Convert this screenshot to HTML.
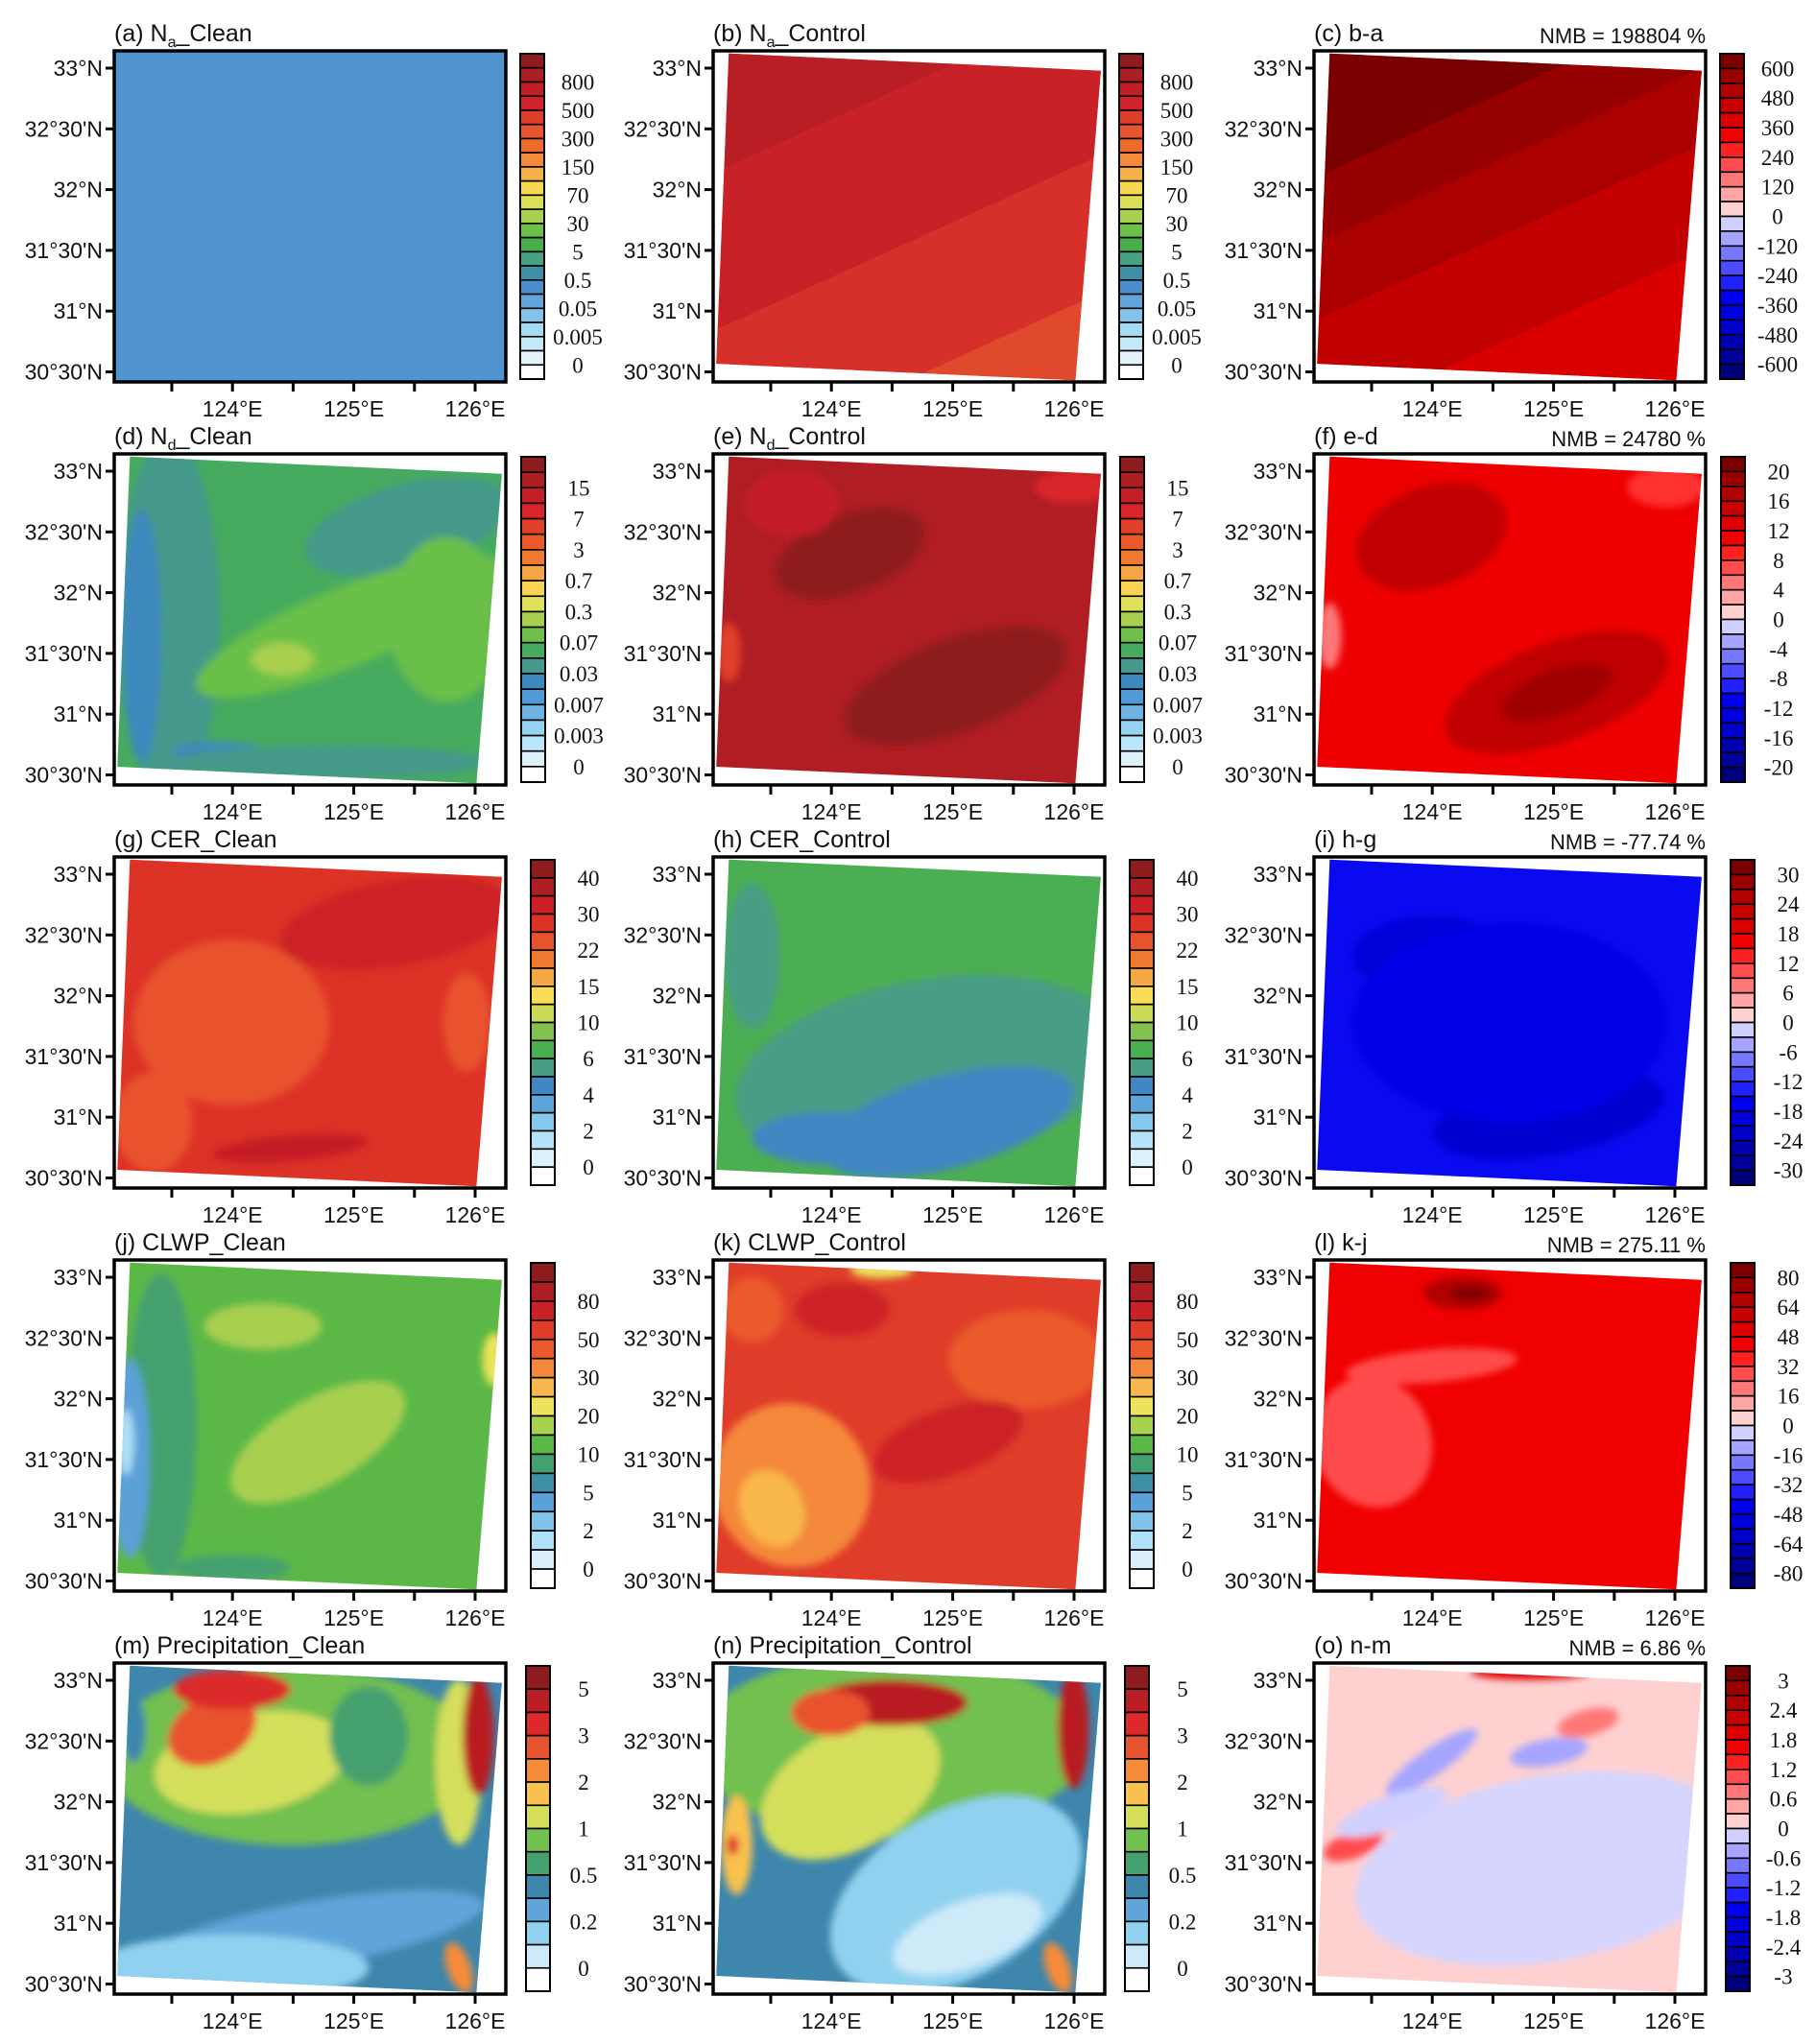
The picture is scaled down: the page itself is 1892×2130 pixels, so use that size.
<!DOCTYPE html>
<html><head><meta charset="utf-8">
<style>
html,body{margin:0;padding:0;background:#fff;}
svg{display:block;}
text{font-family:"Liberation Sans",sans-serif;}
.cb{font-family:"Liberation Serif",serif;}
</style></head>
<body>
<svg id="fig" width="1892" height="2130" viewBox="0 0 1892 2130" xmlns="http://www.w3.org/2000/svg">
<defs>
<filter id="blur" x="-20%" y="-20%" width="140%" height="140%"><feGaussianBlur stdDeviation="4"/></filter>
</defs>
</svg>
<script>
// ---- data arrays ----
const latTicks = ["33°N","32°30'N","32°N","31°30'N","31°N","30°30'N"];
const lonTicks = ["124°E","125°E","126°E"];
const palNa = ["#8e1b1d","#ad1e22","#bf1f25","#d2222a","#e03c2a","#e85530","#f06a2b","#f58b3a","#f8b149","#f9d64f","#dadf55","#a9d04f","#6bbf4a","#4bad50","#47a183","#3e8ea6","#4a8ed0","#63a6d9","#83c2e9","#a4dcf5","#c4e8f7","#e2f3fb","#ffffff"];
const labNa = ["800","500","300","150","70","30","5","0.5","0.05","0.005","0"];
const palNd = ["#8e1b1d","#ad1e22","#c41e27","#d9252a","#e0402a","#ea5a2b","#f07a30","#f6a745","#f8d355","#dfe15a","#a9cf4f","#6bbf4a","#47ab5f","#45998a","#3d88bd","#4f9ad6","#6eb3e4","#95d3f3","#bbe5f8","#ddf1fb","#ffffff"];
const labNd = ["15","7","3","0.7","0.3","0.07","0.03","0.007","0.003","0"];
const palCer = ["#8e1b1d","#ad1e22","#cc2027","#dd3327","#e8532f","#f07a30","#f6a745","#f8dc55","#c9da57","#85c04e","#4cae52","#479e85","#3f86c2","#5ea5d9","#87c8ec","#b4e2f7","#dcf1fb","#ffffff"];
const labCer = ["40","30","22","15","10","6","4","2","0"];
const palLwp = ["#8e1b1d","#ad1e22","#cc2027","#e03c2a","#ea5a2b","#f4883a","#f8b74c","#ece35a","#a9cf4f","#5bb847","#45a070","#3e8ea6","#5ba0d8","#83c2e9","#b0e0f7","#d9f0fb","#ffffff"];
const labLwp = ["80","50","30","20","10","5","2","0"];
const palPr = ["#8e1b1d","#b81e23","#dc2a2c","#e8532f","#f58b3a","#f9c14e","#d4df5c","#72c04f","#45a070","#3e86ac","#5ea5d9","#91d1f0","#cdeaf9","#ffffff"];
const labPr = ["5","3","2","1","0.5","0.2","0"];
const palDiff = ["#7a0000","#9a0000","#b00000","#c80000","#dd0000","#f00000","#ff2020","#ff4c4c","#ff7878","#ffa5a5","#ffd0d0","#d0d0ff","#a5a5ff","#7878ff","#4c4cff","#2020ff","#0000f0","#0000dd","#0000c8","#0000b0","#00009a","#00007a"];
const labBA = ["600","480","360","240","120","0","-120","-240","-360","-480","-600"];
const labED = ["20","16","12","8","4","0","-4","-8","-12","-16","-20"];
const labHG = ["30","24","18","12","6","0","-6","-12","-18","-24","-30"];
const labKJ = ["80","64","48","32","16","0","-16","-32","-48","-64","-80"];
const labNM = ["3","2.4","1.8","1.2","0.6","0","-0.6","-1.2","-1.8","-2.4","-3"];
const nmbValues = ["198804","24780","-77.74","275.11","6.86"];

// ---- layout ----
const colX=[119,743,1369], rowY=[53,473,893,1313,1733], FW=408, FH=345;
const cbOff=[423,424,434,434,429];
const QUAD=[[.04,.008],[.99,.06],[.925,.995],[.008,.945]];

const svg=document.getElementById('fig');
const NS="http://www.w3.org/2000/svg";
function mk(tag,attrs,parent){const e=document.createElementNS(NS,tag);for(const k in attrs)e.setAttribute(k,attrs[k]);(parent||svg).appendChild(e);return e;}

const panels=[
 {id:'a',t:'(a) N',sub:'a',t2:'_Clean',pal:palNa,lab:labNa,first:2,full:true,base:'#5195d0',blobs:[]},
 {id:'b',t:'(b) N',sub:'a',t2:'_Control',pal:palNa,lab:labNa,first:2,base:'#cc2027',
  grad:[[0,'#b81e23'],[.24,'#b81e23'],[.24,'#c92128'],[.55,'#c92128'],[.55,'#d7302a'],[.82,'#d7302a'],[.82,'#e04a2c'],[1,'#e04a2c']],blobs:[]},
 {id:'c',t:'(c) b-a',pal:palDiff,lab:labBA,first:1,nmb:0,base:'#c30000',
  grad:[[0,'#7a0000'],[.25,'#7a0000'],[.25,'#960000'],[.38,'#960000'],[.38,'#aa0000'],[.53,'#aa0000'],[.53,'#c30000'],[.74,'#c30000'],[.74,'#da0000'],[1,'#da0000']],blobs:[]},
 {id:'d',t:'(d) N',sub:'d',t2:'_Clean',pal:palNd,lab:labNd,first:2,base:'#47ab5f',blobs:[
  [.14,.5,.13,.55,0,'#45998a'],[.07,.55,.05,.38,0,'#3d88bd'],[.75,.22,.27,.13,-15,'#45998a'],[.6,.52,.42,.12,-22,'#6bbf4a'],
  [.43,.62,.08,.05,0,'#a9cf4f'],[.27,.9,.12,.03,0,'#3d88bd'],[.55,.93,.4,.05,0,'#45998a'],[.85,.5,.15,.25,0,'#6bbf4a']]},
 {id:'e',t:'(e) N',sub:'d',t2:'_Control',pal:palNd,lab:labNd,first:2,base:'#b01e23',blobs:[
  [.35,.3,.2,.12,-20,'#8e1b1d'],[.62,.7,.3,.14,-20,'#8e1b1d'],[.04,.6,.03,.09,0,'#e0402a'],[.92,.1,.1,.05,0,'#d9252a'],[.2,.15,.12,.1,0,'#c41e27']]},
 {id:'f',t:'(f) e-d',pal:palDiff,lab:labED,first:1,nmb:1,base:'#ee0000',blobs:[
  [.3,.25,.2,.15,-20,'#c00000'],[.62,.72,.3,.15,-20,'#c00000'],[.62,.72,.15,.07,-20,'#a00000'],[.04,.55,.03,.1,0,'#ff7878'],[.9,.1,.1,.06,0,'#ff3030']]},
 {id:'g',t:'(g) CER_Clean',pal:palCer,lab:labCer,first:1,base:'#dd3327',blobs:[
  [.72,.2,.3,.13,-10,'#cc2027'],[.3,.5,.25,.25,0,'#e8532f'],[.1,.8,.1,.15,0,'#e8532f'],[.45,.88,.2,.04,-5,'#c41e27'],[.9,.5,.06,.15,0,'#e8532f']]},
 {id:'h',t:'(h) CER_Control',pal:palCer,lab:labCer,first:1,base:'#4cae52',blobs:[
  [.55,.65,.5,.28,-10,'#479e85'],[.6,.8,.33,.14,-15,'#3f86c2'],[.3,.85,.2,.08,0,'#3f86c2'],[.1,.3,.07,.22,0,'#479e85']]},
 {id:'i',t:'(i) h-g',pal:palDiff,lab:labHG,first:1,nmb:2,base:'#0a0af0',blobs:[
  [.3,.3,.2,.12,0,'#0000d8'],[.6,.78,.3,.12,-10,'#0000d0'],[.5,.5,.4,.3,0,'#0505e6']]},
 {id:'j',t:'(j) CLWP_Clean',pal:palLwp,lab:labLwp,first:2,base:'#5bb847',blobs:[
  [.12,.5,.09,.46,0,'#45a070'],[.04,.6,.05,.3,0,'#5ba0d8'],[.03,.55,.02,.1,0,'#b0e0f7'],[.38,.2,.15,.07,0,'#a9cf4f'],
  [.52,.55,.25,.13,-30,'#a9cf4f'],[.97,.3,.03,.08,0,'#ece35a'],[.3,.93,.15,.04,0,'#45a070']]},
 {id:'k',t:'(k) CLWP_Control',pal:palLwp,lab:labLwp,first:2,base:'#e03c2a',blobs:[
  [.33,.15,.12,.08,0,'#cc2027'],[.43,.03,.08,.025,0,'#ece35a'],[.2,.68,.2,.25,-25,'#f4883a'],[.15,.75,.08,.12,-25,'#f8b74c'],
  [.8,.3,.2,.15,0,'#ea5a2b'],[.1,.15,.08,.1,0,'#ea5a2b'],[.6,.55,.2,.1,-20,'#cc2027']]},
 {id:'l',t:'(l) k-j',pal:palDiff,lab:labKJ,first:1,nmb:3,base:'#f00000',blobs:[
  [.15,.55,.15,.2,-20,'#ff4c4c'],[.3,.32,.22,.05,-5,'#ff4c4c'],[.38,.1,.1,.05,0,'#b00000'],[.4,.1,.05,.02,0,'#7a0000']]},
 {id:'m',t:'(m) Precipitation_Clean',pal:palPr,lab:labPr,first:1,base:'#3e86ac',blobs:[
  [.45,.28,.48,.27,0,'#72c04f'],[.35,.3,.25,.15,-10,'#d4df5c'],[.25,.2,.12,.1,-30,'#e8532f'],[.3,.08,.15,.06,0,'#dc2a2c'],
  [.88,.3,.06,.25,0,'#d4df5c'],[.93,.22,.04,.18,0,'#b81e23'],[.5,.82,.45,.1,-10,'#5ea5d9'],[.3,.92,.35,.1,0,'#91d1f0'],
  [.65,.22,.1,.15,0,'#45a070'],[.88,.92,.03,.08,-20,'#f58b3a'],[.05,.2,.03,.1,0,'#3e86ac']]},
 {id:'n',t:'(n) Precipitation_Control',pal:palPr,lab:labPr,first:1,base:'#3e86ac',blobs:[
  [.45,.25,.5,.28,0,'#72c04f'],[.35,.38,.25,.18,-30,'#d4df5c'],[.45,.12,.2,.07,0,'#b81e23'],[.3,.15,.1,.07,0,'#e8532f'],
  [.92,.2,.04,.18,0,'#b81e23'],[.62,.7,.35,.25,-30,'#91d1f0'],[.65,.82,.2,.1,-20,'#cdeaf9'],[.06,.55,.04,.15,0,'#f9c14e'],
  [.05,.55,.015,.03,0,'#dc2a2c'],[.88,.92,.03,.08,-20,'#f58b3a']]},
 {id:'o',t:'(o) n-m',pal:palDiff,lab:labNM,first:1,nmb:4,base:'#ffd0d0',blobs:[
  [.6,.62,.5,.28,-10,'#d5d5ff'],[.3,.3,.14,.04,-35,'#a5a5ff'],[.6,.27,.1,.04,-10,'#a5a5ff'],[.55,.03,.15,.02,0,'#dd0000'],
  [.1,.55,.08,.04,-20,'#ff4c4c'],[.7,.18,.08,.04,-15,'#ff7878'],[.2,.45,.15,.05,-20,'#d0d0ff']]}
];

panels.forEach((p,i)=>{
 const r=Math.floor(i/3), c=i%3;
 const X=colX[c], Y=rowY[r];
 const g=mk('g',{});
 
 
 const cid='clip'+p.id;
 const cp=mk('clipPath',{id:cid},svg.querySelector('defs'));
 const pts=p.full?[[0,0],[1,0],[1,1],[0,1]]:QUAD;
 mk('polygon',{points:pts.map(q=>(X+q[0]*FW)+','+(Y+q[1]*FH)).join(' ')},cp);
 const field=mk('g',{'clip-path':'url(#'+cid+')'},g);
 
 
 mk('rect',{x:X,y:Y,width:FW,height:FH,fill:p.base},field);
 if(p.grad){
  const gid='grad'+p.id;
  const lg=mk('linearGradient',{id:gid,gradientUnits:'userSpaceOnUse',x1:X,y1:Y,x2:X+200,y2:Y+440},svg.querySelector('defs'));
  p.grad.forEach(s=>mk('stop',{offset:s[0],'stop-color':s[1]},lg));
  mk('rect',{x:X,y:Y,width:FW,height:FH,fill:'url(#'+gid+')'},field);
 }
 const bg=mk('g',{filter:'url(#blur)'},field);
 p.blobs.forEach(b=>{
  const e=mk('ellipse',{cx:X+b[0]*FW,cy:Y+b[1]*FH,rx:b[2]*FW,ry:b[3]*FH,fill:b[5],transform:'rotate('+b[4]+' '+(X+b[0]*FW)+' '+(Y+b[1]*FH)+')'},bg);
  
  
 });
 const fr=mk('rect',{x:X,y:Y,width:FW,height:FH,fill:'none',stroke:'#000','stroke-width':3.5},g);
 
 
 latTicks.forEach((t,k)=>{
  const yy=Y+18+k*63.3;
  mk('line',{x1:X-9,x2:X,y1:yy,y2:yy,stroke:'#000','stroke-width':3},g);
  const tx=mk('text',{x:X-12,y:yy+8,'text-anchor':'end','font-size':23,fill:'#111'},g);
  tx.textContent=t;
  
  
 });
 for(let k=0;k<6;k++){
  const xx=X+60+k*63.2;
  mk('line',{x1:xx,x2:xx,y1:Y+FH,y2:Y+FH+10,stroke:'#000','stroke-width':3},g);
 }
 lonTicks.forEach((t,k)=>{
  const xx=X+123.2+k*126.4;
  const tx=mk('text',{x:xx,y:Y+FH+36,'text-anchor':'middle','font-size':23,fill:'#111'},g);
  tx.textContent=t;
  
  
 });
 const tt=mk('text',{x:X,y:Y-10,'font-size':25,fill:'#111'},g);
 
 
 tt.appendChild(document.createTextNode(p.t));
 if(p.sub){
  const s=mk('tspan',{'font-size':16,dy:6},tt);s.textContent=p.sub;
  const s2=mk('tspan',{dy:-6},tt);s2.textContent=p.t2;
 }
 if(p.nmb!==undefined){
  const nt=mk('text',{x:X+FW,y:Y-8,'text-anchor':'end','font-size':22,fill:'#111'},g);
  nt.textContent='NMB = '+nmbValues[p.nmb]+' %';
  
  
 }
 const cb=mk('g',{},g);
 
 
 const cx=X+cbOff[r], cy0=Y+3, cH=339, n=p.pal.length, bh=cH/n;
 p.pal.forEach((col,k)=>{
  const bx=mk('rect',{x:cx,y:cy0+k*bh,width:25,height:bh,fill:col,stroke:'#000','stroke-width':1.6},cb);
  
  
 });
 mk('rect',{x:cx,y:cy0,width:25,height:cH,fill:'none',stroke:'#000','stroke-width':2},cb);
 p.lab.forEach((l,k)=>{
  const yy=cy0+(p.first+2*k)*bh;
  const tx=mk('text',{x:cx+60,y:yy+8,'text-anchor':'middle','font-size':23,fill:'#111','class':'cb'},cb);
  tx.textContent=l;
  
  
 });
});
</script>
</body></html>
